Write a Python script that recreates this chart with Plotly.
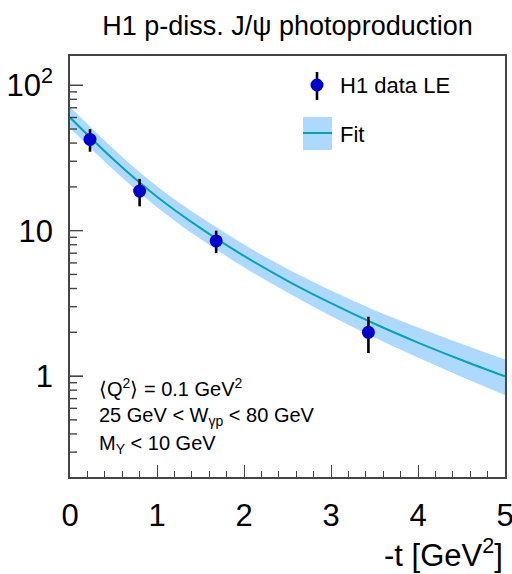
import math
import plotly.graph_objects as go

# H1 proton-dissociative J/psi photoproduction, d(sigma)/dt vs -t
t_data = [0.23, 0.80, 1.68, 3.43]
xsec_data = [42.4, 18.7, 8.5, 2.0]
xsec_err = [7.5, 4.0, 1.5, 0.56]

# Fit curve and its uncertainty band, tabulated in -t
t_fit = [0.0, 0.5, 1.0, 1.5, 2.0, 2.5, 3.0, 3.5, 4.0, 4.5, 5.0]
xsec_fit = [60.0, 30.9, 17.1, 10.4, 6.70, 4.52, 3.17, 2.29, 1.70, 1.29, 0.995]
xsec_fit_hi = [70.8, 36.5, 20.2, 12.4, 8.02, 5.45, 3.87, 2.84, 2.16, 1.67, 1.30]
xsec_fit_lo = [50.8, 26.2, 14.5, 8.75, 5.60, 3.75, 2.59, 1.84, 1.34, 0.99, 0.74]

y_tickvals = [1, 10, 100]
y_ticktext = ["1", "10", "10<sup>2</sup>"]
y_minor = [0.2, 0.3, 0.4, 0.5, 0.6, 0.7, 0.8, 0.9,
           2, 3, 4, 5, 6, 7, 8, 9,
           20, 30, 40, 50, 60, 70, 80, 90]
Y_RANGE = [-0.694, 2.201]

BAND = "#AED9FF"
LINE = "#08A3B2"
MARK = "#0000CD"
AXC = "#444444"
FONT = "Liberation Sans"

fig = go.Figure()
fig.add_trace(go.Scatter(x=t_fit, y=xsec_fit_lo, mode="lines",
                         line=dict(width=0, shape="spline", color=BAND),
                         showlegend=False, hoverinfo="skip"))
fig.add_trace(go.Scatter(x=t_fit, y=xsec_fit_hi, mode="lines", fill="tonexty",
                         fillcolor=BAND, line=dict(width=0, shape="spline", color=BAND),
                         showlegend=False, hoverinfo="skip"))
fig.add_trace(go.Scatter(x=t_fit, y=xsec_fit, mode="lines",
                         line=dict(width=2, shape="spline", color=LINE),
                         showlegend=False))
fig.add_trace(go.Scatter(x=t_data, y=xsec_data, mode="markers",
                         marker=dict(size=13, color=MARK),
                         error_y=dict(type="data", array=xsec_err, color="black",
                                      thickness=2.6, width=0),
                         showlegend=False))

# Plot-area geometry in pixels
L, T, W, H = 70, 56, 435, 421
def px(x):
    return (x - L) / W
def py(y):
    return (T + H - y) / H
def y_frac(v):
    # position of a y value on the log axis as a fraction of the plot height
    return (math.log10(v) - Y_RANGE[0]) / (Y_RANGE[1] - Y_RANGE[0])

shapes = []
# y-axis tick marks, pointing into the frame
for v in y_tickvals:
    shapes.append(dict(type="line", xref="paper", yref="paper", x0=0, x1=13 / W,
                       y0=y_frac(v), y1=y_frac(v), line=dict(color=AXC, width=1.4)))
for v in y_minor:
    shapes.append(dict(type="line", xref="paper", yref="paper", x0=0, x1=7 / W,
                       y0=y_frac(v), y1=y_frac(v), line=dict(color=AXC, width=1.4)))

# legend symbols
shapes += [
    dict(type="line", xref="paper", yref="paper", x0=px(317), x1=px(317),
         y0=py(72), y1=py(100), line=dict(color="black", width=2.6)),
    dict(type="circle", xref="paper", yref="paper", x0=px(310.5), x1=px(323.5),
         y0=py(91.5), y1=py(78.5), fillcolor=MARK, line=dict(width=0)),
    dict(type="rect", xref="paper", yref="paper", x0=px(303), x1=px(332),
         y0=py(150), y1=py(117), fillcolor=BAND, line=dict(width=0)),
    dict(type="line", xref="paper", yref="paper", x0=px(303), x1=px(332),
         y0=py(133), y1=py(133), line=dict(color=LINE, width=2)),
]

annotations = [
    dict(text="H1 data LE", x=px(338), y=py(85), xref="paper", yref="paper",
         xanchor="left", yanchor="middle", showarrow=False,
         font=dict(size=22, color="black", family=FONT)),
    dict(text="Fit", x=px(338), y=py(134), xref="paper", yref="paper",
         xanchor="left", yanchor="middle", showarrow=False,
         font=dict(size=22, color="black", family=FONT)),
    dict(text="⟨Q<sup>2</sup>⟩ = 0.1 GeV<sup>2</sup>", x=px(97), y=py(387),
         xref="paper", yref="paper", xanchor="left", yanchor="middle",
         showarrow=False, font=dict(size=20, color="black", family=FONT)),
    dict(text="25 GeV &lt; W<sub>γp</sub> &lt; 80 GeV", x=px(97), y=py(416),
         xref="paper", yref="paper", xanchor="left", yanchor="middle",
         showarrow=False, font=dict(size=20, color="black", family=FONT)),
    dict(text="M<sub>Y</sub> &lt; 10 GeV", x=px(97), y=py(444),
         xref="paper", yref="paper", xanchor="left", yanchor="middle",
         showarrow=False, font=dict(size=20, color="black", family=FONT)),
    dict(text="-t [GeV<sup>2</sup>]", x=1.0, y=py(553), xref="paper", yref="paper",
         xanchor="right", yanchor="middle", showarrow=False,
         font=dict(size=31, color="black", family=FONT)),
]

fig.update_layout(
    width=512, height=574,
    margin=dict(l=L, r=512 - L - W, t=T, b=574 - T - H),
    paper_bgcolor="white", plot_bgcolor="white",
    title=dict(text="H1 p-diss. J/ψ photoproduction", x=0.5, xref="paper",
               xanchor="center", y=1 - 26 / 574, yref="container", yanchor="middle",
               font=dict(size=27, color="black", family=FONT)),
    font=dict(family=FONT, color="black"),
    shapes=shapes, annotations=annotations, showlegend=False,
    xaxis=dict(
        range=[0, 5], tickvals=[0, 1, 2, 3, 4, 5], ticks="inside", ticklen=12,
        tickwidth=1.3, tickcolor=AXC, showline=True, linecolor=AXC, linewidth=1.5,
        mirror=True, showgrid=False, zeroline=False, ticklabelstandoff=10,
        automargin=False, ticklabeloverflow="allow",
        tickfont=dict(size=31, family=FONT, color="black"),
        minor=dict(dtick=0.2, ticks="inside", ticklen=6, tickwidth=1.3,
                   tickcolor=AXC, showgrid=False),
    ),
    yaxis=dict(
        type="log", range=Y_RANGE, tickmode="array", tickvals=y_tickvals,
        ticktext=y_ticktext, ticks="inside", ticklen=13, tickwidth=1.4,
        tickcolor=AXC, showline=True, linecolor=AXC, linewidth=1.5, mirror=True,
        showgrid=False, zeroline=False, ticklabelstandoff=9, automargin=False,
        tickfont=dict(size=31, family=FONT, color="black"),
    ),
)

fig.write_html("out.html")
